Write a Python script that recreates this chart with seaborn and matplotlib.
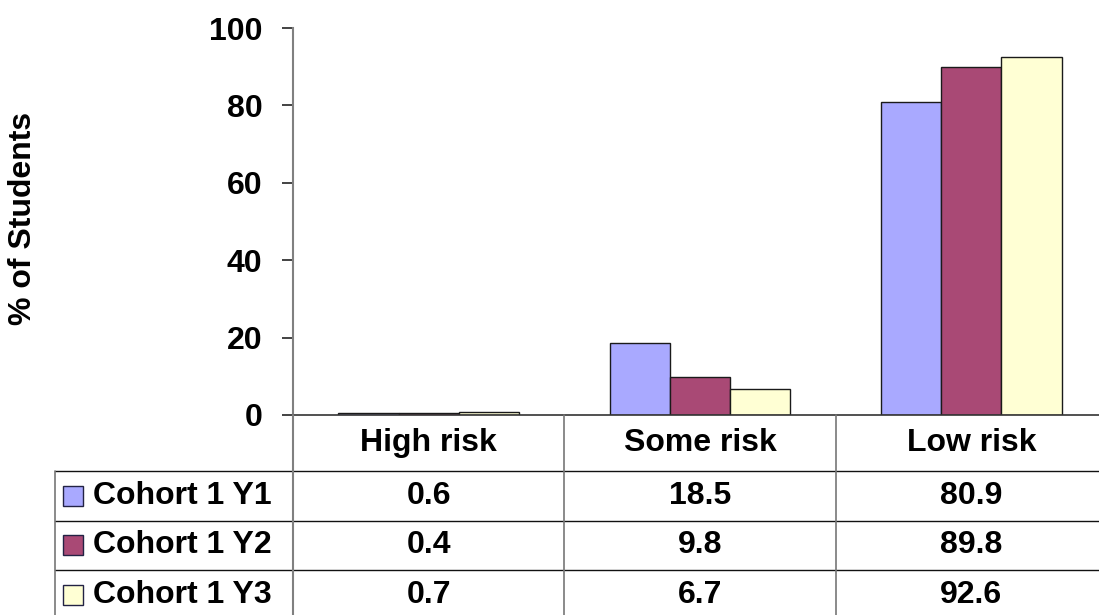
import matplotlib
matplotlib.use("Agg")
import matplotlib.pyplot as plt
import matplotlib.transforms as mtransforms
from matplotlib.lines import Line2D
from matplotlib.patches import Rectangle
import seaborn as sns
import pandas as pd

categories = ["High risk", "Some risk", "Low risk"]
cohorts = ["Cohort 1 Y1", "Cohort 1 Y2", "Cohort 1 Y3"]
y1_values = [0.6, 18.5, 80.9]
y2_values = [0.4, 9.8, 89.8]
y3_values = [0.7, 6.7, 92.6]
colors = ["#A9A9FF", "#A94975", "#FFFFD4"]
y_ticks = [0, 20, 40, 60, 80, 100]

series = [y1_values, y2_values, y3_values]
df = pd.DataFrame(
    [(c, cat, v) for c, vals in zip(cohorts, series) for cat, v in zip(categories, vals)],
    columns=["cohort", "category", "value"],
)

sns.set_style("white")
plt.rcParams["font.family"] = ["Liberation Sans", "DejaVu Sans"]
plt.rcParams["font.weight"] = "bold"
plt.rcParams["text.color"] = "black"
plt.rcParams["axes.labelcolor"] = "black"
plt.rcParams["ytick.color"] = "black"

FS = 23

W, H = 1099, 615
fig = plt.figure(figsize=(W / 100, H / 100), dpi=100)


def fx(px):
    return px / W


def fy(py):
    return 1 - py / H


ax_left, ax_right, ax_top, ax_bottom = 293, 1107, 28, 415
ax = fig.add_axes([fx(ax_left), fy(ax_bottom), fx(ax_right - ax_left), (ax_bottom - ax_top) / H])

sns.barplot(
    data=df, x="category", y="value", hue="cohort", order=categories,
    hue_order=cohorts, palette=colors, width=2 / 3, edgecolor="#1a1a1a",
    linewidth=1.0, ax=ax, legend=False, saturation=1,
)

ax.set_xlim(-0.5, len(categories) - 0.5)
ax.set_ylim(0, 100)
ax.set_yticks(y_ticks)
ax.set_yticklabels([str(t) for t in y_ticks], fontsize=FS, fontweight="bold")
ax.set_xticks([])
ax.set_xlabel("")
ax.set_ylabel("% of Students", fontsize=FS, fontweight="bold")
ax.yaxis.set_label_coords(fx(38), fy(218), transform=fig.transFigure)
ax.tick_params(axis="y", direction="out", length=8, width=1.2, color="#222222", pad=14, left=True)
for side in ["top", "right"]:
    ax.spines[side].set_visible(False)
ax.spines["left"].set_color("#808080")
ax.spines["left"].set_linewidth(1.5)
ax.spines["bottom"].set_color("#333333")
ax.spines["bottom"].set_linewidth(1.2)

# data table under the axes
blend = mtransforms.blended_transform_factory(ax.transData, fig.transFigure)
header_top, header_bottom = 415, 471
row_h = 49.5
row_lines = [header_bottom + i * row_h for i in range(len(cohorts))]
table_left = 55

for py in row_lines:
    fig.add_artist(Line2D([fx(table_left), 1], [fy(py), fy(py)], color="#111111", lw=1.0))
fig.add_artist(Line2D([fx(table_left), fx(table_left)], [fy(header_bottom), 0], color="#777777", lw=1.2))
fig.add_artist(Line2D([fx(ax_left), fx(ax_left)], [fy(header_top), 0], color="#808080", lw=1.5))
for i in range(1, len(categories)):
    fig.add_artist(Line2D([i - 0.5, i - 0.5], [fy(header_top), 0], color="#777777", lw=1.2,
                          transform=blend))

for i, cat in enumerate(categories):
    fig.text(i, fy((header_top + header_bottom) / 2), cat, transform=blend,
             ha="center", va="center", fontsize=FS, fontweight="bold")

for r, (name, vals, col) in enumerate(zip(cohorts, series, colors)):
    cy = row_lines[r] + row_h / 2
    fig.add_artist(Rectangle((fx(63), fy(cy + 10)), fx(20), 20 / H, facecolor=col,
                             edgecolor="#222244", lw=1.0, transform=fig.transFigure))
    fig.text(fx(93), fy(cy), name, ha="left", va="center", fontsize=FS, fontweight="bold")
    for i, v in enumerate(vals):
        fig.text(i, fy(cy), f"{v:.1f}", transform=blend, ha="center", va="center",
                 fontsize=FS, fontweight="bold")

fig.savefig("out.png", dpi=100)
